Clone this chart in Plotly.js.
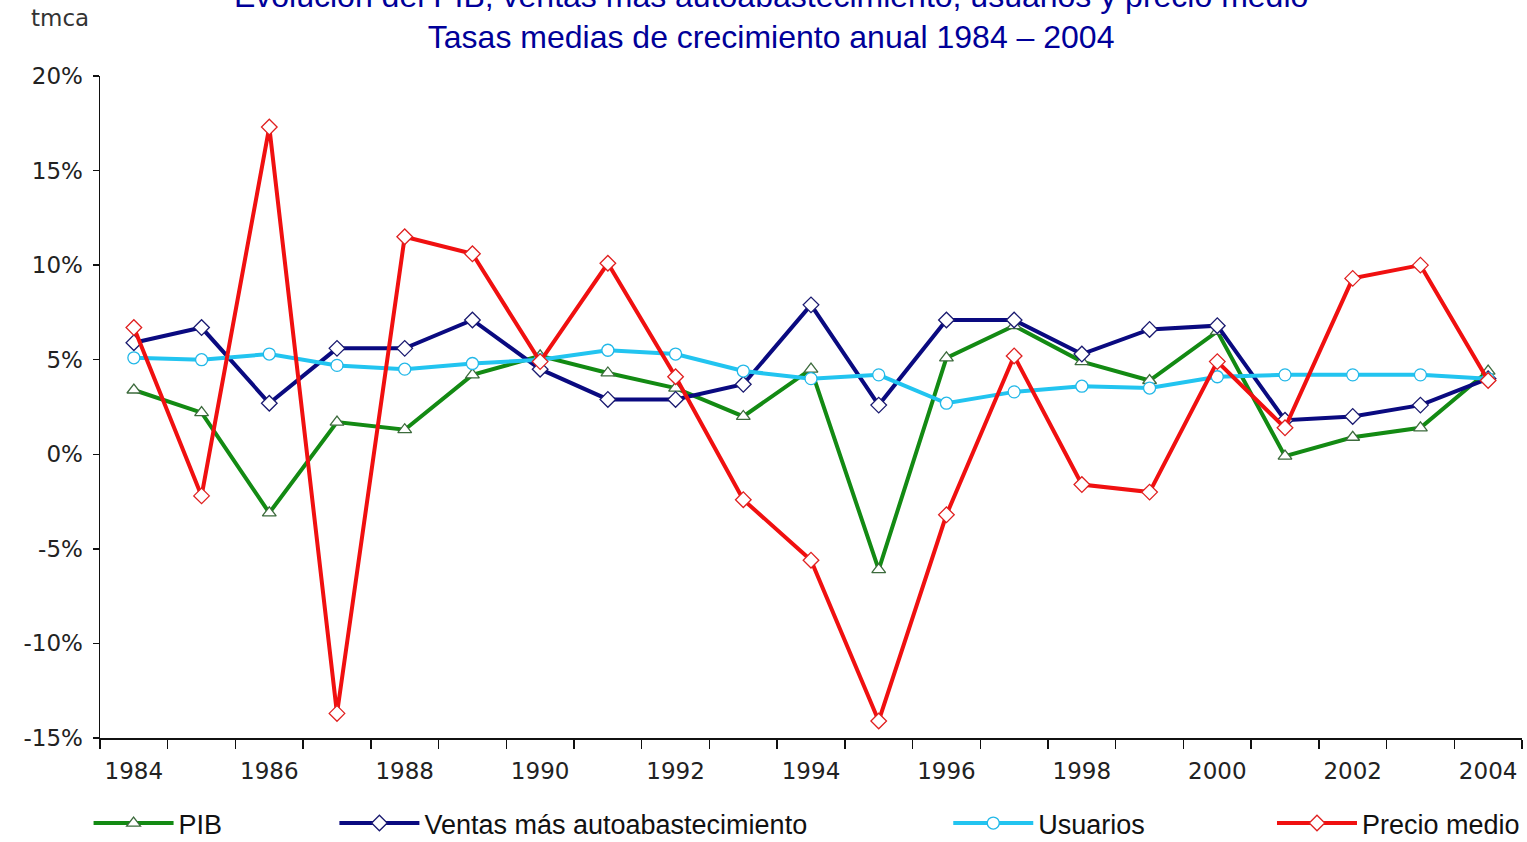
<!DOCTYPE html>
<html>
<head>
<meta charset="utf-8">
<script src="https://cdn.plot.ly/plotly-3.0.1.min.js"></script>
<style>html,body{margin:0;padding:0;background:#fff;}#chart{width:1527px;height:842px;}</style>
</head>
<body>
<div id="chart"></div>
<script>
const years = [1984,1985,1986,1987,1988,1989,1990,1991,1992,1993,1994,1995,1996,1997,1998,1999,2000,2001,2002,2003,2004];
const pib = [3.4,2.2,-3.1,1.7,1.3,4.2,5.2,4.3,3.5,2.0,4.5,-6.1,5.1,6.8,4.9,3.9,6.5,-0.1,0.9,1.4,4.4];
const ventas = [5.9,6.7,2.7,5.6,5.6,7.1,4.5,2.9,2.9,3.7,7.9,2.6,7.1,7.1,5.3,6.6,6.8,1.8,2.0,2.6,4.0];
const usuarios = [5.1,5.0,5.3,4.7,4.5,4.8,5.0,5.5,5.3,4.4,4.0,4.2,2.7,3.3,3.6,3.5,4.1,4.2,4.2,4.2,4.0];
const precio = [6.7,-2.2,17.3,-13.7,11.5,10.6,4.9,10.1,4.1,-2.4,-5.6,-14.1,-3.2,5.2,-1.6,-2.0,4.9,1.4,9.3,10.0,3.9];
const xTickLabels = [1984,1986,1988,1990,1992,1994,1996,1998,2000,2002,2004];
const yTicks = [-15,-10,-5,0,5,10,15,20];

const seriesNames = ['PIB','Ventas más autoabastecimiento','Usuarios','Precio medio'];

function mk(y, name, color, symbol, mcolor, legend) {
  return {
    x: years, y: y, name: name, type: 'scatter', mode: 'lines+markers',
    line: {color: color, width: 4},
    marker: {symbol: symbol, size: 12, color: '#ffffff', line: {color: mcolor, width: 1.3}},
    legend: legend
  };
}

const traces = [
  mk(pib, seriesNames[0], '#138a13', 'triangle-up', '#3d6b3d', 'legend'),
  mk(ventas, seriesNames[1], '#0a0a80', 'diamond', '#1a1a70', 'legend2'),
  mk(usuarios, seriesNames[2], '#22c4f0', 'circle', '#22b8e8', 'legend3'),
  mk(precio, seriesNames[3], '#f01010', 'diamond', '#e02020', 'legend4')
];

const legFont = {family: '"Liberation Sans Narrow", "Liberation Sans", Arial, sans-serif', size: 27, color: '#111'};
function leg(x) {
  return {orientation: 'h', x: x, xref: 'container', y: 0.022, yref: 'container', yanchor: 'middle', xanchor: 'left',
          font: legFont, itemwidth: 80, bgcolor: 'rgba(0,0,0,0)', borderwidth: 0, itemclick: false};
}

const layout = {
  width: 1527, height: 842,
  paper_bgcolor: '#ffffff', plot_bgcolor: '#ffffff',
  margin: {l: 100, r: 5, t: 76, b: 104, autoexpand: false},
  title: {
    text: 'Evolución del PIB, ventas más autoabastecimiento, usuarios y precio medio<br>Tasas medias de crecimiento anual 1984 – 2004',
    font: {family: '"Liberation Sans", Arial, sans-serif', size: 32, color: '#000099'},
    x: 0.505, xanchor: 'center', xref: 'container',
    y: 0.992, yanchor: 'middle', yref: 'container'
  },
  showlegend: true,
  legend: leg(0.058),
  legend2: leg(0.219),
  legend3: leg(0.621),
  legend4: leg(0.833),
  xaxis: {
    range: [1983.5, 2004.5],
    tickvals: xTickLabels, ticktext: xTickLabels.map(String),
    ticks: '', showgrid: false, zeroline: false,
    showline: true, linecolor: '#111', linewidth: 1.5,
    tickfont: {family: '"DejaVu Sans", Verdana, sans-serif', size: 23, color: '#222'},
    minor: {tick0: 1983.5, dtick: 1, ticks: 'outside', ticklen: 9, tickcolor: '#111', tickwidth: 1.5, showgrid: false},
    ticklabelstandoff: 12, automargin: false
  },
  yaxis: {
    range: [-15, 20], tickvals: yTicks, ticktext: yTicks.map(v => v + '%'),
    ticks: 'outside', ticklen: 6, tickcolor: '#111', tickwidth: 1.5,
    showgrid: false, zeroline: false,
    showline: true, linecolor: '#111', linewidth: 1.5,
    ticklabelstandoff: 5, automargin: false,
    tickfont: {family: '"DejaVu Sans", Verdana, sans-serif', size: 23, color: '#222'}
  },
  annotations: [{
    text: 'tmca', xref: 'paper', yref: 'paper', x: -0.006, y: 1.087, xanchor: 'right', yanchor: 'middle',
    showarrow: false, font: {family: '"DejaVu Sans", Verdana, sans-serif', size: 23, color: '#333'}
  }]
};

Plotly.newPlot('chart', traces, layout, {displayModeBar: false, staticPlot: true});
</script>
</body>
</html>
